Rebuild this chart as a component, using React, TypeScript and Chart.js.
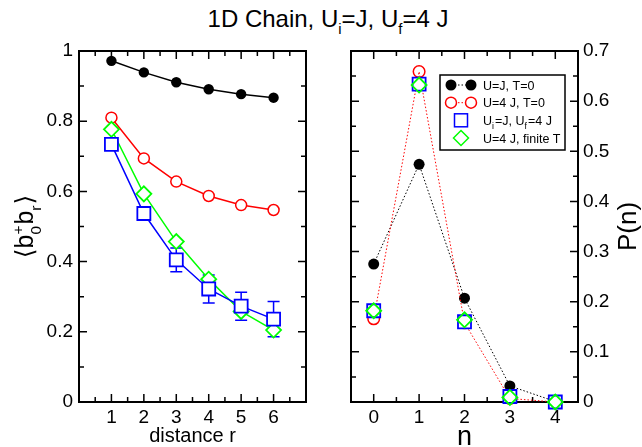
import React, { useEffect, useRef } from 'react';
import { Chart, registerables } from 'chart.js';

Chart.register(...registerables);

const FONT = "'Liberation Sans', Arial, Helvetica, 'DejaVu Sans', sans-serif";

// ---------- data: left panel (correlation vs distance) ----------
const distance = [1, 2, 3, 4, 5, 6];
const corrUJ = [0.972, 0.939, 0.911, 0.891, 0.877, 0.867];
const corrU4 = [0.81, 0.694, 0.628, 0.587, 0.561, 0.547];
const corrQuench = [0.734, 0.537, 0.405, 0.322, 0.273, 0.236];
const corrQuenchErr = [0.008, 0.012, 0.034, 0.04, 0.04, 0.05];
const corrFiniteT = [0.777, 0.593, 0.457, 0.35, 0.258, 0.205];

const leftXTicks = [1, 2, 3, 4, 5, 6];
const leftYTicks = [0, 0.2, 0.4, 0.6, 0.8, 1];

// ---------- data: right panel (P(n)) ----------
const occupation = [0, 1, 2, 3, 4];
const pUJ = [0.275, 0.474, 0.207, 0.032, 0.001];
const pU4 = [0.166, 0.659, 0.158, 0.007, 0.0];
const pQuench = [0.182, 0.634, 0.16, 0.011, 0.0];
const pFiniteT = [0.182, 0.632, 0.164, 0.009, 0.0];

const rightXTicks = [0, 1, 2, 3, 4];
const rightYTicks = [0, 0.1, 0.2, 0.3, 0.4, 0.5, 0.6, 0.7];

const seriesNames = ['U=J, T=0', 'U=4 J, T=0', 'U_i=J, U_f=4 J', 'U=4 J, finite T'];

const BLACK = '#000000';
const RED = '#ff0000';
const BLUE = '#0000ff';
const GREEN = '#00ff00';

type Seg = { t: string; k?: 'sub' | 'sup' | 'stack'; t2?: string };

function parseRich(s: string): Seg[] {
  const out: Seg[] = [];
  let buf = '';
  for (let i = 0; i < s.length; i++) {
    const c = s[i];
    if ((c === '_' || c === '^') && i + 1 < s.length) {
      if (buf) out.push({ t: buf });
      buf = '';
      out.push({ t: s[i + 1], k: c === '_' ? 'sub' : 'sup' });
      i++;
    } else buf += c;
  }
  if (buf) out.push({ t: buf });
  return out;
}

function drawRich(
  ctx: CanvasRenderingContext2D,
  segs: Seg[],
  x: number,
  y: number,
  size: number,
  align: 'left' | 'center',
  subScale = 0.62,
  subDrop = 0.28,
  supRise = 0.42
) {
  const small = size * subScale;
  const widths = segs.map((s) => {
    if (!s.k) {
      ctx.font = `${size}px ${FONT}`;
      return ctx.measureText(s.t).width;
    }
    ctx.font = `${small}px ${FONT}`;
    if (s.k === 'stack') return Math.max(ctx.measureText(s.t).width, ctx.measureText(s.t2 || '').width) + 1;
    return ctx.measureText(s.t).width + 1;
  });
  const total = widths.reduce((a, b) => a + b, 0);
  let cx = align === 'center' ? x - total / 2 : x;
  ctx.textBaseline = 'alphabetic';
  ctx.textAlign = 'left';
  segs.forEach((s, i) => {
    if (!s.k) {
      ctx.font = `${size}px ${FONT}`;
      ctx.fillText(s.t, cx, y);
    } else {
      ctx.font = `${small}px ${FONT}`;
      if (s.k === 'sub') ctx.fillText(s.t, cx, y + size * subDrop);
      else if (s.k === 'sup') ctx.fillText(s.t, cx, y - size * supRise);
      else {
        ctx.fillText(s.t, cx, y - size * supRise);
        ctx.fillText(s.t2 || '', cx, y + size * subDrop);
      }
    }
    cx += widths[i];
  });
}

function pts(xs: number[], ys: number[]) {
  return xs.map((x, i) => ({ x, y: ys[i] }));
}

function framePlugin(id: string, xMajor: number, xMinor: number, yMajor: number, yMinor: number) {
  return {
    id,
    beforeDatasetsDraw(chart: any) {
      const { ctx, chartArea: a, scales } = chart;
      const xs = scales.x;
      const ys = scales.y;
      ctx.save();
      ctx.strokeStyle = '#000';
      ctx.lineWidth = 1.5;
      const isMajor = (v: number, m: number) => Math.abs(v / m - Math.round(v / m)) < 1e-6;
      const nx = Math.round((xs.max - xs.min) / xMinor);
      for (let i = 1; i < nx; i++) {
        const v = xs.min + i * xMinor;
        const px = xs.getPixelForValue(v);
        const len = isMajor(v, xMajor) ? 8 : 5;
        ctx.beginPath();
        ctx.moveTo(px, a.bottom);
        ctx.lineTo(px, a.bottom - len);
        ctx.moveTo(px, a.top);
        ctx.lineTo(px, a.top + len);
        ctx.stroke();
      }
      const ny = Math.round((ys.max - ys.min) / yMinor);
      for (let i = 1; i < ny; i++) {
        const v = ys.min + i * yMinor;
        const py = ys.getPixelForValue(v);
        const len = isMajor(v, yMajor) ? 8 : 5;
        ctx.beginPath();
        ctx.moveTo(a.left, py);
        ctx.lineTo(a.left + len, py);
        ctx.moveTo(a.right, py);
        ctx.lineTo(a.right - len, py);
        ctx.stroke();
      }
      ctx.lineWidth = 2;
      ctx.strokeRect(a.left, a.top, a.right - a.left, a.bottom - a.top);
      ctx.restore();
    },
  };
}

const errorBarPlugin = {
  id: 'errorBars',
  beforeDatasetsDraw(chart: any) {
    const { ctx, scales } = chart;
    ctx.save();
    ctx.strokeStyle = BLUE;
    ctx.lineWidth = 1.5;
    distance.forEach((d, i) => {
      const px = scales.x.getPixelForValue(d);
      const top = scales.y.getPixelForValue(corrQuench[i] + corrQuenchErr[i]);
      const bot = scales.y.getPixelForValue(corrQuench[i] - corrQuenchErr[i]);
      ctx.beginPath();
      ctx.moveTo(px, top);
      ctx.lineTo(px, bot);
      ctx.moveTo(px - 6, top);
      ctx.lineTo(px + 6, top);
      ctx.moveTo(px - 6, bot);
      ctx.lineTo(px + 6, bot);
      ctx.stroke();
    });
    ctx.restore();
  },
};

const leftLabelPlugin = {
  id: 'leftLabel',
  afterDraw(chart: any) {
    const { ctx, chartArea: a } = chart;
    ctx.save();
    ctx.fillStyle = '#000';
    ctx.translate(a.left - 46, (a.top + a.bottom) / 2);
    ctx.rotate(-Math.PI / 2);
    drawRich(
      ctx,
      [{ t: '\u27E8b' }, { t: '+', k: 'stack', t2: '0' }, { t: 'b' }, { t: 'r', k: 'sub' }, { t: '\u27E9' }],
      0,
      0,
      25,
      'center',
      0.62,
      0.3,
      0.42
    );
    ctx.restore();
  },
};

const rightExtrasPlugin = {
  id: 'rightExtras',
  afterDraw(chart: any) {
    const { ctx, chartArea: a } = chart;
    ctx.save();
    ctx.fillStyle = '#000';
    // P(n) axis label
    ctx.save();
    ctx.translate(a.right + 58, (a.top + a.bottom) / 2);
    ctx.rotate(-Math.PI / 2);
    ctx.font = `26px ${FONT}`;
    ctx.textAlign = 'center';
    ctx.textBaseline = 'alphabetic';
    ctx.fillText('P(n)', 0, 0);
    ctx.restore();

    // legend box
    const bx = a.left + 89;
    const by = a.top + 24;
    const bw = 125;
    const bh = 75;
    ctx.fillStyle = '#fff';
    ctx.fillRect(bx, by, bw, bh);
    ctx.strokeStyle = '#000';
    ctx.lineWidth = 1.5;
    ctx.strokeRect(bx, by, bw, bh);
    const rows = [10, 27.7, 45.3, 63];
    const s1 = bx + 11;
    const s2 = bx + 31;
    const sm = (s1 + s2) / 2;
    const tx = bx + 43;
    let yy = by + rows[0];
    ctx.setLineDash([1.5, 2]);
    ctx.lineWidth = 1;
    ctx.strokeStyle = BLACK;
    ctx.beginPath();
    ctx.moveTo(s1, yy);
    ctx.lineTo(s2, yy);
    ctx.stroke();
    ctx.strokeStyle = RED;
    ctx.beginPath();
    ctx.moveTo(s1, by + rows[1]);
    ctx.lineTo(s2, by + rows[1]);
    ctx.stroke();
    ctx.setLineDash([]);
    ctx.fillStyle = BLACK;
    [s1, s2].forEach((sx) => {
      ctx.beginPath();
      ctx.arc(sx, yy, 5.5, 0, Math.PI * 2);
      ctx.fill();
    });
    yy = by + rows[1];
    ctx.strokeStyle = RED;
    ctx.lineWidth = 1.5;
    [s1, s2].forEach((sx) => {
      ctx.beginPath();
      ctx.arc(sx, yy, 5.5, 0, Math.PI * 2);
      ctx.fillStyle = '#fff';
      ctx.fill();
      ctx.stroke();
    });
    yy = by + rows[2];
    ctx.strokeStyle = BLUE;
    ctx.strokeRect(sm - 6.5, yy - 6.5, 13, 13);
    yy = by + rows[3];
    ctx.strokeStyle = GREEN;
    ctx.beginPath();
    ctx.moveTo(sm, yy - 7.5);
    ctx.lineTo(sm + 7.5, yy);
    ctx.lineTo(sm, yy + 7.5);
    ctx.lineTo(sm - 7.5, yy);
    ctx.closePath();
    ctx.stroke();
    ctx.fillStyle = '#000';
    seriesNames.forEach((name, i) => {
      drawRich(ctx, parseRich(name), tx, by + rows[i] + 4.5, 12.5, 'left', 0.7, 0.3, 0.4);
    });
    ctx.restore();
  },
};

const tickFont = { family: FONT, size: 19 };

export default function App() {
  const leftRef = useRef<HTMLCanvasElement | null>(null);
  const rightRef = useRef<HTMLCanvasElement | null>(null);

  useEffect(() => {
    Chart.defaults.font.family = FONT;
    Chart.defaults.color = '#000';

    const left = new Chart(leftRef.current as HTMLCanvasElement, {
      type: 'line',
      data: {
        datasets: [
          {
            label: seriesNames[2],
            data: pts(distance, corrQuench),
            borderColor: BLUE,
            borderWidth: 1.5,
            pointStyle: 'rect',
            pointRadius: 9.2,
            pointBorderWidth: 1.8,
            pointBorderColor: BLUE,
            pointBackgroundColor: '#fff',
            order: 0,
            clip: false,
          },
          {
            label: seriesNames[3],
            data: pts(distance, corrFiniteT),
            borderColor: GREEN,
            borderWidth: 1.5,
            pointStyle: 'rectRot',
            pointRadius: 7.5,
            pointBorderWidth: 1.8,
            pointBorderColor: GREEN,
            pointBackgroundColor: '#fff',
            order: 1,
            clip: false,
          },
          {
            label: seriesNames[1],
            data: pts(distance, corrU4),
            borderColor: RED,
            borderWidth: 1.5,
            pointStyle: 'circle',
            pointRadius: 5.5,
            pointBorderWidth: 1.5,
            pointBorderColor: RED,
            pointBackgroundColor: '#fff',
            order: 2,
            clip: false,
          },
          {
            label: seriesNames[0],
            data: pts(distance, corrUJ),
            borderColor: BLACK,
            borderWidth: 1.5,
            pointStyle: 'circle',
            pointRadius: 5.2,
            pointBorderWidth: 0,
            pointBackgroundColor: BLACK,
            order: 3,
            clip: false,
          },
        ],
      },
      options: {
        animation: false,
        responsive: false,
        maintainAspectRatio: false,
        devicePixelRatio: 1,
        layout: { padding: { top: 51, right: 24, left: 0, bottom: 0 } },
        plugins: { legend: { display: false }, tooltip: { enabled: false }, title: { display: false } },
        scales: {
          x: {
            type: 'linear',
            min: 0,
            max: 7,
            afterBuildTicks: (s: any) => {
              s.ticks = leftXTicks.map((v) => ({ value: v }));
            },
            afterFit: (s: any) => {
              s.height = 45;
            },
            grid: { display: false, drawTicks: false },
            border: { display: false },
            ticks: { font: tickFont, color: '#000', padding: 4, maxRotation: 0, autoSkip: false, callback: (v: any) => String(v) },
            title: {
              display: true,
              text: 'distance r',
              font: { family: FONT, size: 20 },
              color: '#000',
              padding: { top: 0, bottom: -1 },
            },
          },
          y: {
            type: 'linear',
            min: 0,
            max: 1,
            afterBuildTicks: (s: any) => {
              s.ticks = leftYTicks.map((v) => ({ value: v }));
            },
            afterFit: (s: any) => {
              s.width = 79;
            },
            grid: { display: false, drawTicks: false },
            border: { display: false },
            ticks: {
              font: tickFont,
              color: '#000',
              padding: 6,
              autoSkip: false,
              callback: (v: any) => (v === 0 || v === 1 ? String(v) : Number(v).toFixed(1)),
            },
          },
        },
      } as any,
      plugins: [framePlugin('frameL', 1, 0.5, 0.2, 0.1), errorBarPlugin, leftLabelPlugin],
    });

    const right = new Chart(rightRef.current as HTMLCanvasElement, {
      type: 'line',
      data: {
        datasets: [
          {
            label: seriesNames[3],
            data: pts(occupation, pFiniteT),
            showLine: false,
            pointStyle: 'rectRot',
            pointRadius: 7.5,
            pointBorderWidth: 1.8,
            pointBorderColor: GREEN,
            pointBackgroundColor: 'rgba(0,0,0,0)',
            order: 0,
            clip: false,
          },
          {
            label: seriesNames[2],
            data: pts(occupation, pQuench),
            showLine: false,
            pointStyle: 'rect',
            pointRadius: 9.2,
            pointBorderWidth: 1.8,
            pointBorderColor: BLUE,
            pointBackgroundColor: '#ffffff',
            order: 1,
            clip: false,
          },
          {
            label: seriesNames[1],
            data: pts(occupation, pU4),
            borderColor: RED,
            borderWidth: 1,
            borderDash: [1.5, 2],
            pointStyle: 'circle',
            pointRadius: 5.8,
            pointBorderWidth: 1.5,
            pointBorderColor: RED,
            pointBackgroundColor: 'rgba(0,0,0,0)',
            order: 2,
            clip: false,
          },
          {
            label: seriesNames[0],
            data: pts(occupation, pUJ),
            borderColor: BLACK,
            borderWidth: 1,
            borderDash: [1.5, 2],
            pointStyle: 'circle',
            pointRadius: 5.5,
            pointBorderWidth: 0,
            pointBackgroundColor: BLACK,
            order: 3,
            clip: false,
          },
        ],
      },
      options: {
        animation: false,
        responsive: false,
        maintainAspectRatio: false,
        devicePixelRatio: 1,
        layout: { padding: { top: 51, right: 0, left: 21, bottom: 0 } },
        plugins: { legend: { display: false }, tooltip: { enabled: false }, title: { display: false } },
        scales: {
          x: {
            type: 'linear',
            min: -0.5,
            max: 4.5,
            afterBuildTicks: (s: any) => {
              s.ticks = rightXTicks.map((v) => ({ value: v }));
            },
            afterFit: (s: any) => {
              s.height = 45;
            },
            grid: { display: false, drawTicks: false },
            border: { display: false },
            ticks: { font: tickFont, color: '#000', padding: 4, maxRotation: 0, autoSkip: false, callback: (v: any) => String(v) },
            title: {
              display: true,
              text: 'n',
              font: { family: FONT, size: 27 },
              color: '#000',
              padding: { top: 0, bottom: -7 },
            },
          },
          y: {
            type: 'linear',
            position: 'right',
            min: 0,
            max: 0.7,
            afterBuildTicks: (s: any) => {
              s.ticks = rightYTicks.map((v) => ({ value: v }));
            },
            afterFit: (s: any) => {
              s.width = 64;
            },
            grid: { display: false, drawTicks: false },
            border: { display: false },
            ticks: {
              font: tickFont,
              color: '#000',
              padding: 5,
              autoSkip: false,
              callback: (v: any) => (v === 0 ? '0' : Number(v).toFixed(1)),
            },
          },
        },
      } as any,
      plugins: [framePlugin('frameR', 1, 0.5, 0.1, 0.05), rightExtrasPlugin],
    });

    return () => {
      left.destroy();
      right.destroy();
    };
  }, []);

  const subStyle: React.CSSProperties = { fontSize: '0.62em', position: 'relative', top: '0.45em' };

  return (
    <div style={{ position: 'absolute', left: 0, top: 0, width: 642, height: 447, background: '#fff', overflow: 'hidden' }}>
      <div
        style={{
          position: 'absolute',
          left: 0,
          top: 7,
          width: 656,
          textAlign: 'center',
          fontFamily: FONT,
          fontSize: 24,
          lineHeight: '24px',
          color: '#000',
          whiteSpace: 'nowrap',
        }}
      >
        1D Chain, U<span style={subStyle}>i</span>=J, U<span style={subStyle}>f</span>=4 J
      </div>
      <canvas ref={leftRef} width={330} height={447} style={{ position: 'absolute', left: 0, top: 0, width: 330, height: 447 }} />
      <canvas ref={rightRef} width={312} height={447} style={{ position: 'absolute', left: 330, top: 0, width: 312, height: 447 }} />
    </div>
  );
}
